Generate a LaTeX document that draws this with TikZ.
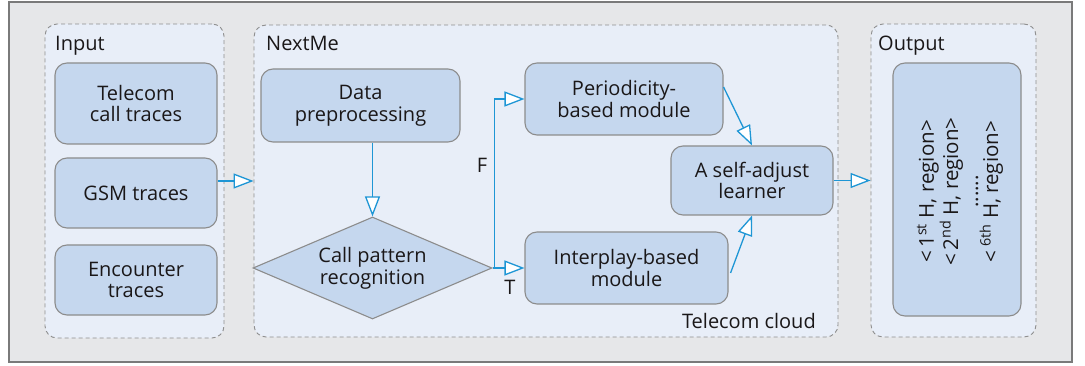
\documentclass[tikz,border=0pt]{standalone}
\usepackage{fontspec}
\setmainfont{Open Sans}
\usetikzlibrary{arrows.meta,shapes.geometric,calc}

\definecolor{framebg}{HTML}{E6E7E9}
\definecolor{frameline}{HTML}{7A7A7A}
\definecolor{panelbg}{HTML}{E8EEF8}
\definecolor{panelline}{HTML}{8E8E8E}
\definecolor{boxbg}{HTML}{C5D7EE}
\definecolor{boxline}{HTML}{8C8C8C}
\definecolor{flow}{HTML}{1E96D5}
\definecolor{ink}{HTML}{1A1718}

\tikzset{
  panel/.style={draw=panelline, fill=panelbg, line width=0.9pt,
    dash pattern=on 4pt off 3pt, rounded corners=12pt},
  block/.style={draw=boxline, fill=boxbg, line width=1.1pt, rounded corners=12pt,
    align=center, inner sep=0pt, text=ink,
    font=\fontsize{20}{21.7}\selectfont},
  decision/.style={diamond, shape aspect=2.34, draw=boxline, fill=boxbg, line width=1.1pt,
    align=center, inner sep=0pt, text=ink,
    font=\fontsize{20}{21.7}\selectfont},
  caption/.style={text=ink, inner sep=0pt, font=\fontsize{20}{21.7}\selectfont},
  flowline/.style={draw=flow, line width=1.3pt},
  flowarrow/.style={flowline,
    -{Triangle[length=20pt, width=15pt, fill=white, line width=1.3pt]}},
}

\begin{document}
\begin{tikzpicture}[x=1pt, y=-1pt]
  \useasboundingbox (0,0) rectangle (1085,366);

  % outer frame
  \path[draw=frameline, fill=framebg, line width=1.3pt] (9,2) rectangle (1072,362);

  % dashed panels
  \node[panel, minimum width=179pt, minimum height=314pt] (input) at (134.5,181) {};
  \node[panel, minimum width=584pt, minimum height=312pt] (nextme) at (546,181) {};
  \node[panel, minimum width=165pt, minimum height=313pt] (output) at (953.5,180.5) {};

  \node[caption, anchor=base west] (inputlbl) at (55,51) {Input};
  \node[caption, anchor=base west] (nextmelbl) at (266,51) {NextMe};
  \node[caption, anchor=base west] (outputlbl) at (878,51) {Output};
  \node[caption, anchor=base east] (cloudlbl) at (816,328) {Telecom cloud};

  % input sources
  \node[block, minimum width=162pt, minimum height=81pt] (telecom) at (136,103.5) {Telecom\\call traces};
  \node[block, minimum width=162pt, minimum height=70pt] (gsm) at (136,193) {GSM traces};
  \node[block, minimum width=162pt, minimum height=70pt] (encounter) at (136,280) {Encounter\\traces};

  % processing chain
  \node[block, minimum width=199pt, minimum height=73pt] (prep) at (360.5,105.5) {Data\\preprocessing};
  \node[decision, minimum width=239pt, minimum height=102pt] (pattern) at (372.5,268) {Call pattern\\recognition};
  \node[block, minimum width=198pt, minimum height=72pt] (period) at (624,99) {Periodicity-\\based module};
  \node[block, minimum width=203pt, minimum height=72pt] (interplay) at (626.5,268) {Interplay-based\\module};
  \node[block, minimum width=162pt, minimum height=69pt] (learner) at (752,180.5) {A self-adjust\\learner};

  % output record
  \node[block, minimum width=128pt, minimum height=253pt] (result) at (957,189.5) {};
  \node[caption, rotate=90, align=center, font=\fontsize{20.5}{20}\selectfont] (resulttext) at ($(result.center)+(3,2)$)
    {<\,1\textsuperscript{st} H, region>\\<\,2\textsuperscript{nd} H, region>\\......\\<\,\textsuperscript{6th} H, region>};

  % connectors
  \draw[flowarrow] (gsm.east |- nextme.west) -- (nextme.west);
  \draw[flowarrow] (pattern.north |- prep.south) -- (pattern.north);
  \coordinate (split) at ($(pattern.east)+(2,0)$);
  \draw[flowline] (pattern.east) -- (split);
  \draw[flowarrow] (split) |- (period.west);
  \draw[flowarrow] (split) -- (interplay.west);
  \draw[flowarrow] ($(period.east)+(0,-12)$) -- (learner.north);
  \draw[flowarrow] ($(interplay.east)+(2,5)$) -- (learner.south);
  \draw[flowarrow] (learner.east) -- (output.west);

  % branch labels
  \node[caption] (flbl) at (482,165) {F};
  \node[caption] (tlbl) at (510,287) {T};
\end{tikzpicture}
\end{document}
